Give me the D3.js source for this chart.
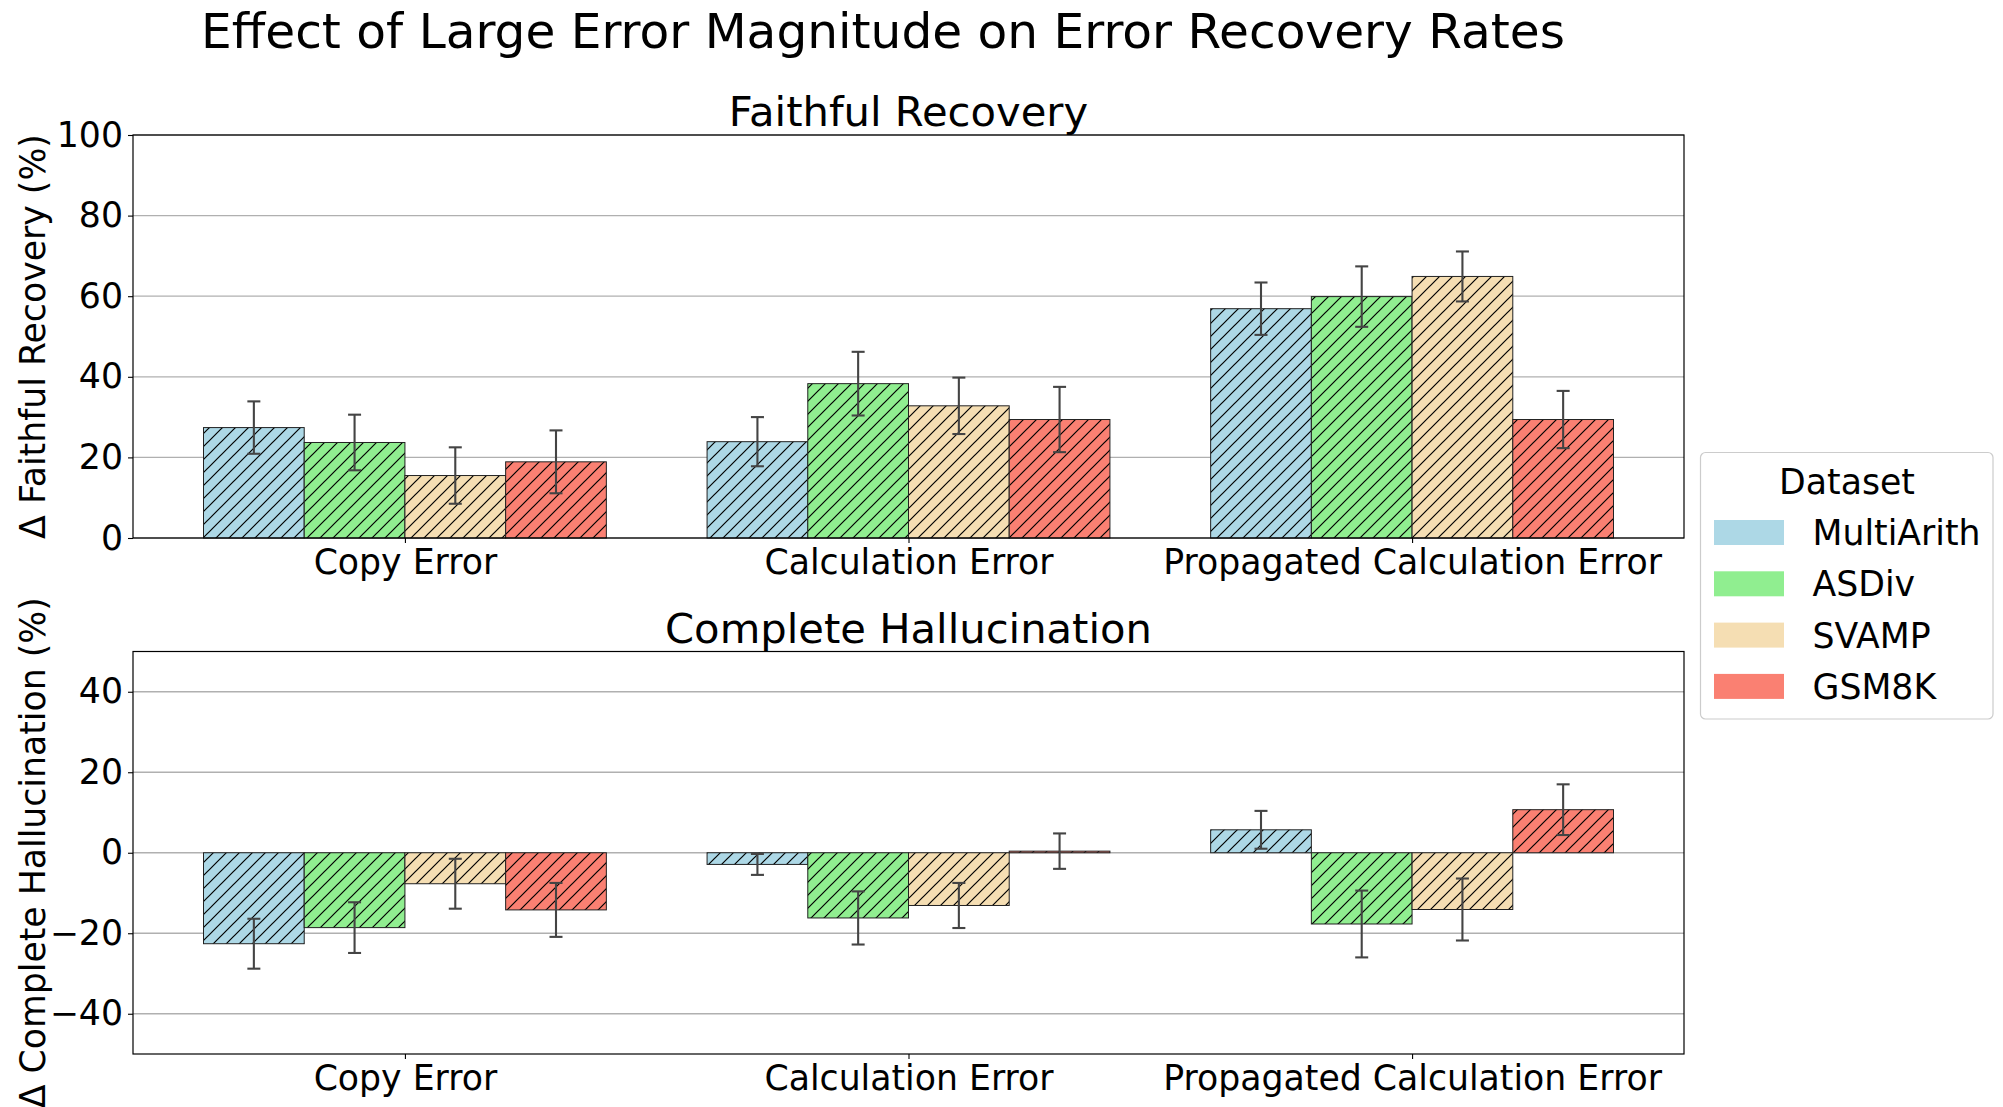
<!DOCTYPE html>
<html>
<head>
<meta charset="utf-8">
<script src="https://cdn.jsdelivr.net/npm/d3@7"></script>
<style>
  html, body { margin: 0; padding: 0; background: #fff; }
  svg { display: block; font-family: "DejaVu Sans", sans-serif; }
</style>
</head>
<body>
<svg id="chart" width="2003" height="1107"></svg>
<script>
// ---------- data ----------
const categories = ["Copy Error", "Calculation Error", "Propagated Calculation Error"];
const datasets = ["MultiArith", "ASDiv", "SVAMP", "GSM8K"];
const colors = ["#ADD8E6", "#90EE90", "#F5DEB3", "#FA8072"];

const faithfulMultiArith = [27.4, 23.9, 56.9];
const faithfulASDiv      = [23.7, 38.3, 59.9];
const faithfulSVAMP      = [15.5, 32.8, 64.9];
const faithfulGSM8K      = [18.9, 29.4, 29.4];
const faithfulErrMultiArith = [6.5, 6.1, 6.5];
const faithfulErrASDiv      = [6.9, 7.9, 7.5];
const faithfulErrSVAMP      = [7.0, 7.0, 6.2];
const faithfulErrGSM8K      = [7.8, 8.1, 7.1];

const hallucMultiArith = [-22.6, -2.9, 5.7];
const hallucASDiv      = [-18.6, -16.2, -17.7];
const hallucSVAMP      = [-7.7, -13.1, -14.1];
const hallucGSM8K      = [-14.2, 0.4, 10.7];
const hallucErrMultiArith = [6.2, 2.6, 4.7];
const hallucErrASDiv      = [6.3, 6.6, 8.3];
const hallucErrSVAMP      = [6.2, 5.6, 7.7];
const hallucErrGSM8K      = [6.7, 4.4, 6.3];

const faithfulTicks = [0, 20, 40, 60, 80, 100];
const hallucTicks = [-40, -20, 0, 20, 40];

const faithfulSeries = [faithfulMultiArith, faithfulASDiv, faithfulSVAMP, faithfulGSM8K];
const faithfulErrs = [faithfulErrMultiArith, faithfulErrASDiv, faithfulErrSVAMP, faithfulErrGSM8K];
const hallucSeries = [hallucMultiArith, hallucASDiv, hallucSVAMP, hallucGSM8K];
const hallucErrs = [hallucErrMultiArith, hallucErrASDiv, hallucErrSVAMP, hallucErrGSM8K];

// ---------- layout ----------
const svg = d3.select("#chart");
const L = 133, R = 1684;
const FS = 34.7;

const defs = svg.append("defs");
const hs = 13;
const pat = defs.append("pattern")
  .attr("id", "hatch")
  .attr("patternUnits", "userSpaceOnUse")
  .attr("width", hs).attr("height", hs);
pat.append("path")
  .attr("d", `M0,${hs} L${hs},0 M${-hs/2},${hs/2} L${hs/2},${-hs/2} M${hs/2},${hs*1.5} L${hs*1.5},${hs/2}`)
  .attr("stroke", "#000").attr("stroke-width", 1.2).attr("fill", "none");

svg.append("text")
  .attr("x", 883).attr("y", 48)
  .attr("text-anchor", "middle")
  .attr("font-size", 48.6)
  .text("Effect of Large Error Magnitude on Error Recovery Rates");

function panel(opts) {
  const { top, bottom, domain, ticks, series, errs, title, titleY, ylabel, xlabelY } = opts;
  const x = d3.scaleLinear().domain([-0.54, 2.54]).range([L, R]);
  const y = d3.scaleLinear().domain(domain).range([bottom, top]);
  const g = svg.append("g");

  // grid
  g.selectAll("line.grid").data(ticks).enter().append("line")
    .attr("x1", L).attr("x2", R)
    .attr("y1", d => y(d)).attr("y2", d => y(d))
    .attr("stroke", "#b0b0b0").attr("stroke-width", 1.3);

  // bars
  const bw = 0.2;
  series.forEach((vals, si) => {
    const off = (si - 1.5) * bw;
    const sg = g.append("g");
    const rects = vals.map((v, ci) => ({ v, ci }));
    sg.selectAll("rect.fill").data(rects).enter().append("rect")
      .attr("x", d => x(d.ci + off - bw / 2))
      .attr("width", x(bw) - x(0))
      .attr("y", d => Math.min(y(d.v), y(0)))
      .attr("height", d => Math.abs(y(d.v) - y(0)))
      .attr("fill", colors[si]);
    sg.selectAll("rect.hatch").data(rects).enter().append("rect")
      .attr("x", d => x(d.ci + off - bw / 2))
      .attr("width", x(bw) - x(0))
      .attr("y", d => Math.min(y(d.v), y(0)))
      .attr("height", d => Math.abs(y(d.v) - y(0)))
      .attr("fill", "url(#hatch)")
      .attr("stroke", "#222").attr("stroke-width", 1);
  });

  // error bars
  series.forEach((vals, si) => {
    const off = (si - 1.5) * bw;
    const eg = g.append("g").attr("stroke", "#444").attr("stroke-width", 2.1);
    vals.forEach((v, ci) => {
      const cx = x(ci + off);
      const e = errs[si][ci];
      eg.append("line").attr("x1", cx).attr("x2", cx).attr("y1", y(v - e)).attr("y2", y(v + e));
      eg.append("line").attr("x1", cx - 6.5).attr("x2", cx + 6.5).attr("y1", y(v - e)).attr("y2", y(v - e));
      eg.append("line").attr("x1", cx - 6.5).attr("x2", cx + 6.5).attr("y1", y(v + e)).attr("y2", y(v + e));
    });
  });

  // frame
  g.append("rect").attr("x", L).attr("y", top).attr("width", R - L).attr("height", bottom - top)
    .attr("fill", "none").attr("stroke", "#000").attr("stroke-width", 1.2);

  // y axis
  const ya = g.append("g").attr("transform", `translate(${L},0)`)
    .call(d3.axisLeft(y).tickValues(ticks).tickSize(5).tickPadding(5)
      .tickFormat(d => d < 0 ? "\u2212" + Math.abs(d) : String(d)));
  ya.select(".domain").remove();
  ya.selectAll("line").attr("stroke", "#000").attr("stroke-width", 1.1);
  ya.selectAll("text").attr("font-size", FS).attr("font-family", "DejaVu Sans").attr("fill", "#000");

  // x axis
  const xa = g.append("g").attr("transform", `translate(0,${bottom})`)
    .call(d3.axisBottom(x).tickValues([0, 1, 2]).tickSize(5).tickPadding(5)
      .tickFormat((d, i) => categories[i]));
  xa.select(".domain").remove();
  xa.selectAll("line").attr("stroke", "#000").attr("stroke-width", 1.1);
  xa.selectAll("text").attr("font-size", FS).attr("font-family", "DejaVu Sans").attr("fill", "#000")
    .attr("dy", null).attr("y", xlabelY - bottom);

  // title
  svg.append("text").attr("x", (L + R) / 2).attr("y", titleY)
    .attr("text-anchor", "middle").attr("font-size", 41.7).text(title);

  // y label
  svg.append("text")
    .attr("transform", `translate(45,${(top + bottom) / 2}) rotate(-90)`)
    .attr("text-anchor", "middle").attr("font-size", FS).text(ylabel);
}

panel({ top: 135, bottom: 538, domain: [0, 100], ticks: faithfulTicks,
  series: faithfulSeries, errs: faithfulErrs, title: "Faithful Recovery", titleY: 126,
  ylabel: "\u0394 Faithful Recovery (%)", xlabelY: 574 });

panel({ top: 651.5, bottom: 1054, domain: [-50, 50], ticks: hallucTicks,
  series: hallucSeries, errs: hallucErrs, title: "Complete Hallucination", titleY: 643,
  ylabel: "\u0394 Complete Hallucination (%)", xlabelY: 1090 });

// legend
const lg = svg.append("g");
lg.append("rect").attr("x", 1700.5).attr("y", 452.5).attr("width", 292.5).attr("height", 266.5)
  .attr("rx", 5).attr("fill", "#fff").attr("fill-opacity", 0.8)
  .attr("stroke", "#cccccc").attr("stroke-width", 1.2);
lg.append("text").attr("x", 1847).attr("y", 494).attr("text-anchor", "middle")
  .attr("font-size", FS).text("Dataset");
datasets.forEach((name, i) => {
  const yy = 520 + i * 51.3;
  lg.append("rect").attr("x", 1714).attr("y", yy).attr("width", 70).attr("height", 25)
    .attr("fill", colors[i]);
  lg.append("text").attr("x", 1812.5).attr("y", yy + 25).attr("font-size", FS).text(name);
});
</script>
</body>
</html>
